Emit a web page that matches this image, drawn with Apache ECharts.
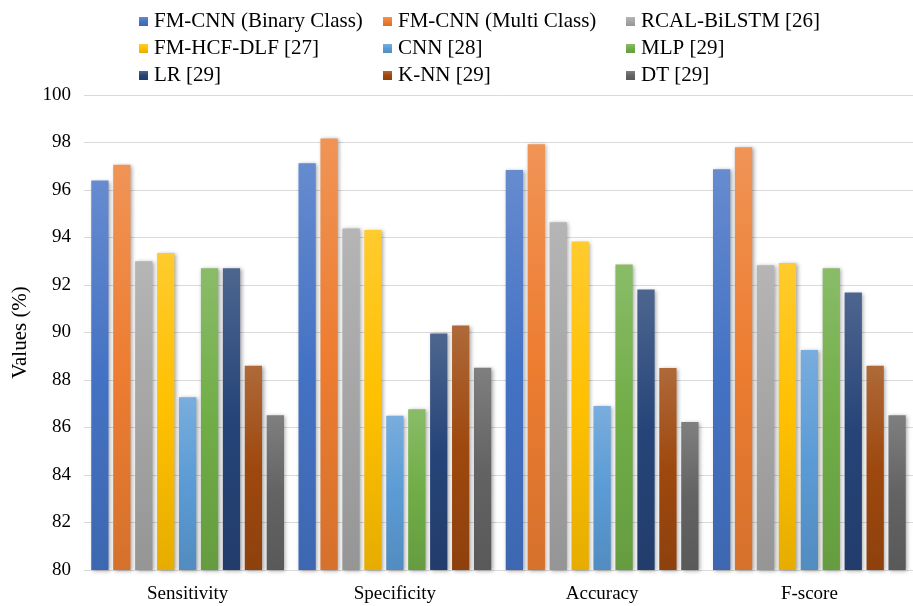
<!DOCTYPE html>
<html>
<head>
<meta charset="utf-8">
<script src="https://cdn.jsdelivr.net/npm/echarts@6/dist/echarts.min.js"></script>
<style>
  html, body { margin: 0; padding: 0; background: #fff; }
  #chart { width: 913px; height: 606px; }
</style>
</head>
<body>
<div id="chart"></div>
<script>
// data
const categories = ['Sensitivity', 'Specificity', 'Accuracy', 'F-score']
const seriesNames = ['FM-CNN (Binary Class)', 'FM-CNN (Multi Class)', 'RCAL-BiLSTM [26]',
  'FM-HCF-DLF [27]', 'CNN [28]', 'MLP [29]', 'LR [29]', 'K-NN [29]', 'DT [29]']
const fmCnnBinary = [96.4, 97.13, 96.84, 96.87]
const fmCnnMulti = [97.06, 98.17, 97.93, 97.8]
const rcalBiLstm = [93.0, 94.38, 94.64, 92.83]
const fmHcfDlf = [93.35, 94.32, 93.83, 92.93]
const cnn = [87.27, 86.49, 86.91, 89.26]
const mlp = [92.71, 86.77, 92.86, 92.71]
const lr = [92.71, 89.96, 91.81, 91.68]
const knn = [88.6, 90.29, 88.51, 88.6]
const dt = [86.52, 88.52, 86.23, 86.52]
const yTicks = [80, 82, 84, 86, 88, 90, 92, 94, 96, 98, 100]

const allValues = [fmCnnBinary, fmCnnMulti, rcalBiLstm, fmHcfDlf, cnn, mlp, lr, knn, dt]
const colors = ['#4472C4', '#ED7D31', '#A5A5A5', '#FFC000', '#5B9BD5', '#70AD47', '#264478', '#9E480E', '#636363']

// mix a hex colour with white (t>0) or black (t<0)
function mix(hex, t) {
  const n = parseInt(hex.slice(1), 16)
  let rgb = [(n >> 16) & 255, (n >> 8) & 255, n & 255]
  rgb = rgb.map(c => t >= 0 ? Math.round(c + (255 - c) * t) : Math.round(c * (1 + t)))
  return 'rgb(' + rgb.join(',') + ')'
}

function gradient(hex) {
  return new echarts.graphic.LinearGradient(0, 0, 0, 1, [
    { offset: 0, color: mix(hex, 0.18) },
    { offset: 0.5, color: hex },
    { offset: 1, color: mix(hex, -0.1) }
  ])
}

const font = 'Liberation Serif, Times New Roman, serif'
const myChart = echarts.init(document.getElementById('chart'))

const legendCols = [
  { left: 139, names: [seriesNames[0], seriesNames[3], seriesNames[6]] },
  { left: 383, names: [seriesNames[1], seriesNames[4], seriesNames[7]] },
  { left: 626, names: [seriesNames[2], seriesNames[5], seriesNames[8]] }
]

const option = {
  animation: false,
  legend: legendCols.map(c => ({
    data: c.names,
    orient: 'vertical',
    left: c.left,
    top: 11,
    padding: 0,
    icon: 'rect',
    itemWidth: 9,
    itemHeight: 9,
    itemGap: 6,
    textStyle: { fontFamily: font, fontSize: 21, color: '#000', padding: [0, 0, 0, 1] }
  })),
  grid: { left: 84, right: -5, top: 95, bottom: 36 },
  xAxis: {
    type: 'category',
    data: categories,
    axisTick: { show: false },
    axisLine: { lineStyle: { color: '#d9d9d9', width: 1 } },
    axisLabel: { fontFamily: font, fontSize: 19, color: '#000', margin: 15 }
  },
  yAxis: {
    type: 'value',
    min: yTicks[0],
    max: yTicks[yTicks.length - 1],
    interval: 2,
    name: 'Values (%)',
    nameLocation: 'middle',
    nameRotate: 90,
    nameGap: 53,
    nameTextStyle: { fontFamily: font, fontSize: 21, color: '#000' },
    axisLine: { show: false },
    axisTick: { show: false },
    axisLabel: { fontFamily: font, fontSize: 19, color: '#000', margin: 13 },
    splitLine: { lineStyle: { color: '#d9d9d9', width: 1 } }
  },
  series: allValues.map((vals, i) => ({
    name: seriesNames[i],
    type: 'bar',
    data: vals,
    barGap: '27%',
    barCategoryGap: '7%',
    itemStyle: {
      color: gradient(colors[i]),
      shadowBlur: 4,
      shadowColor: 'rgba(0,0,0,0.35)',
      shadowOffsetX: 1.5,
      shadowOffsetY: 1
    }
  }))
}

myChart.setOption(option)
</script>
</body>
</html>
